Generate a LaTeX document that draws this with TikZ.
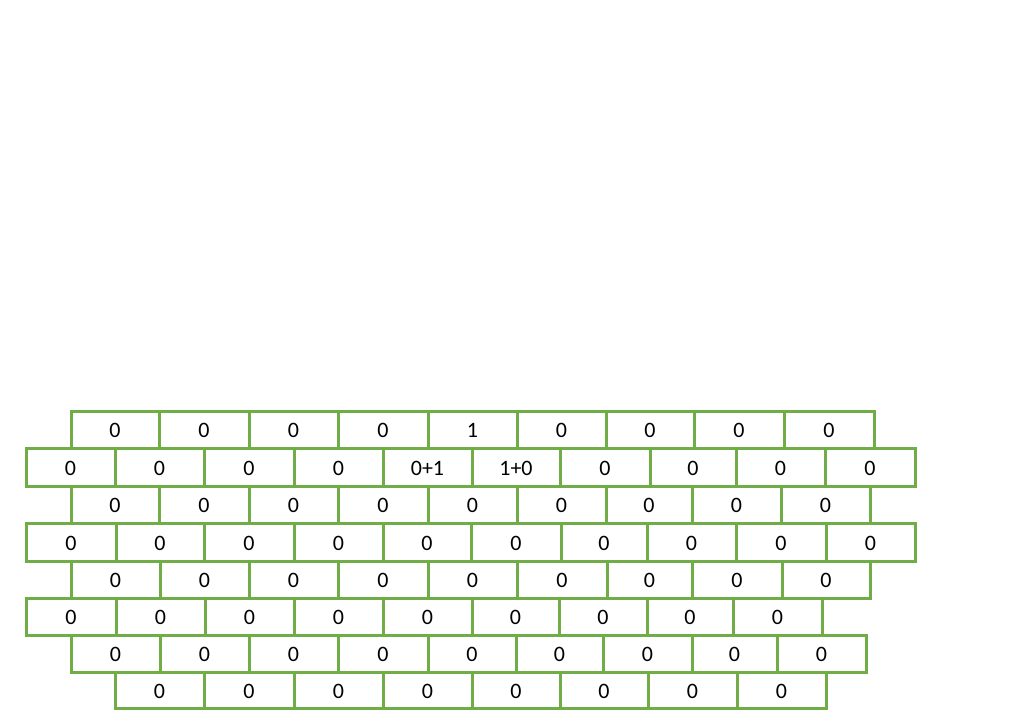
\documentclass[tikz,border=0pt]{standalone}
\usepackage{fontspec}
\setmainfont{Carlito}
\definecolor{brickgreen}{HTML}{70AD47}
\newcommand\brickrow[4]{%
  \foreach \xa/\xb/\t [count=\i] in {#4} {%
    \node[brick, minimum width={\xb-\xa}, minimum height={#2-#1}] (#3c\i) at ({(\xa+\xb)/2},{(#1+#2)/2}) {\t};
  }%
}
\begin{document}
\begin{tikzpicture}[x=1pt,y=-1pt,
  brick/.style={draw=brickgreen, line width=3pt, rectangle, inner sep=0pt,
    text height=16.5pt, text depth=0pt,
    font=\fontsize{22}{26}\selectfont}]
\useasboundingbox (0,0) rectangle (1024,709);
\brickrow{411}{448}{r1}{71/159/0,159/249/0,249/338/0,338/428/0,428/517/1,517/606/0,606/694/0,694/784/0,784/874/0}
\brickrow{448}{486}{r2}{26/115/0,115/204/0,204/294/0,294/383/0,383/472/0+1,472/560/1+0,560/650/0,650/736/0,736/825/0,825/915/0}
\brickrow{486}{523}{r3}{71/159/0,159/249/0,249/338/0,338/428/0,428/517/0,517/606/0,606/692/0,692/781/0,781/870/0}
\brickrow{523}{561}{r4}{26/116/0,116/204/0,204/294/0,294/383/0,383/471/0,471/561/0,561/647/0,647/736/0,736/826/0,826/915/0}
\brickrow{561}{598}{r5}{71/160/0,160/249/0,249/338/0,338/428/0,428/517/0,517/607/0,607/692/0,692/782/0,782/870/0}
\brickrow{598}{635}{r6}{26/116/0,116/205/0,205/294/0,294/383/0,383/472/0,472/559/0,559/647/0,647/733/0,733/822/0}
\brickrow{635}{672}{r7}{71/160/0,160/249/0,249/338/0,338/428/0,428/516/0,516/603/0,603/692/0,692/777/0,777/866/0}
\brickrow{672}{708}{r8}{115/204/0,204/294/0,294/383/0,383/472/0,472/560/0,560/648/0,648/737/0,737/826/0}
\end{tikzpicture}
\end{document}
